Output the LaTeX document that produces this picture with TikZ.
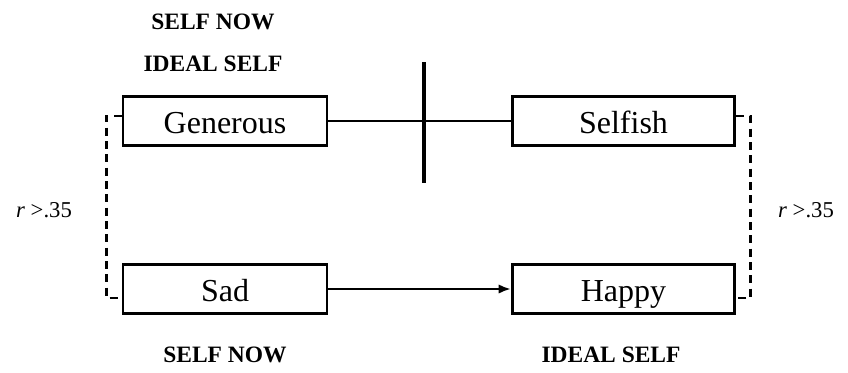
\documentclass[tikz,border=0pt]{standalone}
\usepackage{fontspec}
\setmainfont{Liberation Serif}
\usetikzlibrary{arrows.meta}
\begin{document}
\begin{tikzpicture}[x=0.75pt,y=-0.75pt,
  trait/.style={draw,line width=2.2pt,minimum height=36.75pt,inner sep=0pt,text height=20pt,text depth=2pt,font=\fontsize{24}{28}\selectfont},
  head/.style={font=\bfseries\fontsize{17.6}{20}\selectfont},
  rval/.style={font=\fontsize{17}{20}\selectfont},
  corr/.style={line width=1.9pt,dash pattern=on 6pt off 4pt},
  link/.style={line width=1.6pt}]
\useasboundingbox (0,0) rectangle (848,372);
% trait boxes
\node[trait,minimum width=153pt] (gen) at (225,121) {Generous};
\node[trait,minimum width=167pt] (self) at (623.5,121) {Selfish};
\node[trait,minimum width=153pt] (sad) at (225,289) {Sad};
\node[trait,minimum width=167pt] (hap) at (623.5,289) {Happy};
% headings
\node[head] (nowtop) at (213,22) {SELF NOW};
\node[head] (idealtop) at (213,64) {IDEAL SELF};
\node[head] (nowbot) at (225,355) {SELF NOW};
\node[head] (idealbot) at (611,355) {IDEAL SELF};
% correlations
\node[rval] (rleft) at (44,210) {\textit{r} >.35};
\node[rval] (rright) at (806,210) {\textit{r} >.35};
% connectors
\coordinate (bartop) at (424,62);
\coordinate (barbot) at (424,183);
\draw[link] (gen) -- (self);
\draw[line width=3pt] (bartop) -- (barbot);
\draw[link,-{Latex[length=9pt,width=7pt]}] (sad) -- (hap);
\draw[corr] ([yshift=3.75pt]gen.west) -- ++(-15,0) |- ([yshift=-6.75pt]sad.west);
\draw[corr] ([yshift=3.75pt]self.east) -- ++(14,0) |- ([yshift=-6.75pt]hap.east);
\end{tikzpicture}
\end{document}
